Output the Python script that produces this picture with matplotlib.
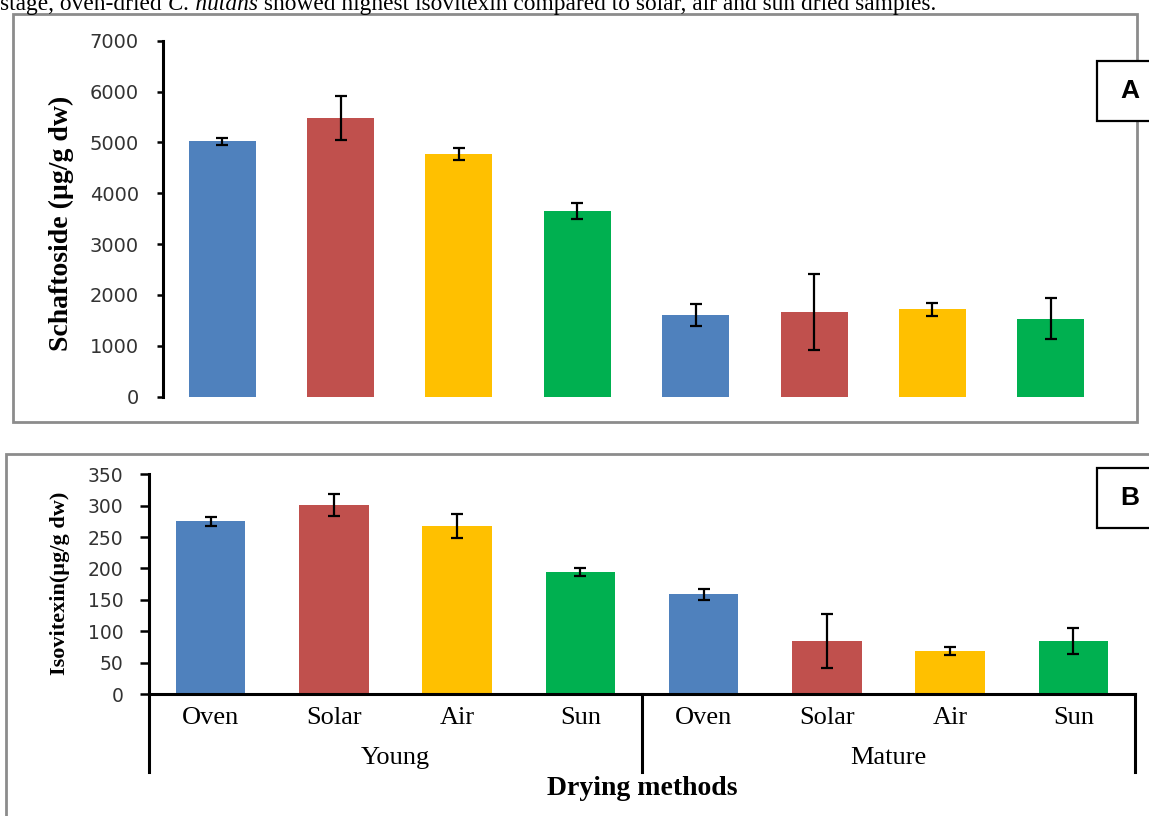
import matplotlib
matplotlib.use('Agg')
import matplotlib.pyplot as plt
import matplotlib.transforms as mtransforms
from matplotlib.patches import Rectangle
from matplotlib.text import Annotation

# Дані
stages = ['Young', 'Mature']
methods = ['Oven', 'Solar', 'Air', 'Sun']
schaftoside = [5020, 5480, 4770, 3650, 1600, 1670, 1715, 1535]
schaftoside_err = [65, 430, 115, 157, 215, 750, 135, 405]
isovitexin = [275, 301, 268, 195, 159, 85, 68, 85]
isovitexin_err = [7, 18, 19, 6.5, 8.5, 43, 6.5, 20.5]
colors = ['#4F81BD', '#C0504D', '#FFC000', '#00B050'] * 2

serif = 'Liberation Serif'
W, H = 1149, 816
fig = plt.figure(figsize=(W / 100, H / 100), dpi=100)

def fx(px):
    return px / W

def fy(py):
    return 1 - py / H

x = list(range(len(schaftoside)))
err_kw = dict(ecolor='black', elinewidth=1.6, capsize=4.5, capthick=1.6)

# Панель A
axA = fig.add_axes([fx(163), fy(396.7), fx(1110) - fx(163), fy(40.7) - fy(396.7)])
axA.set_facecolor('none')
axA.bar(x, schaftoside, width=0.565, color=colors, yerr=schaftoside_err,
        error_kw=err_kw)
axA.set_xlim(-0.5, 7.5)
axA.set_ylim(0, 7000)
axA.set_yticks(range(0, 7001, 1000))
for s in ['top', 'right', 'bottom']:
    axA.spines[s].set_visible(False)
axA.spines['left'].set_linewidth(2.2)
axA.set_xticks([])
axA.tick_params(axis='y', length=4.5, width=1.8, pad=13, labelsize=14,
                labelcolor='#333333')
axA.set_ylabel('Schaftoside (µg/g dw)', family=serif, fontweight='bold',
               fontsize=20, va='center')
axA.yaxis.set_label_coords((61 - 163) / 947, 0.488)

# Панель B
axB = fig.add_axes([fx(149), fy(694), fx(1135) - fx(149), fy(474.3) - fy(694)])
axB.set_facecolor('none')
axB.bar(x, isovitexin, width=0.565, color=colors, yerr=isovitexin_err,
        error_kw=err_kw)
axB.set_xlim(-0.5, 7.5)
axB.set_ylim(0, 350)
axB.set_yticks(range(0, 351, 50))
for s in ['top', 'right']:
    axB.spines[s].set_visible(False)
axB.spines['left'].set_linewidth(2.2)
axB.spines['bottom'].set_linewidth(2.2)
axB.set_xticks(x)
axB.set_xticklabels(methods * 2, family=serif, fontsize=19)
axB.tick_params(axis='x', length=0, pad=9)
axB.tick_params(axis='y', length=6.5, width=1.8, pad=12, labelsize=13.5,
                labelcolor='#333333')
axB.set_ylabel('Isovitexin(µg/g dw)', family=serif, fontweight='bold',
               fontsize=16, va='center')
axB.yaxis.set_label_coords((60 - 149) / 986, 0.505)

trans = mtransforms.blended_transform_factory(axB.transData, axB.transAxes)
for xv in [-0.5, 3.5, 7.5]:
    axB.plot([xv, xv], [0, -0.355], color='black', lw=2.2, transform=trans,
             clip_on=False)
axB.text(1.5, -0.291, stages[0], transform=trans, ha='center', va='center',
         family=serif, fontsize=19)
axB.text(5.5, -0.291, stages[1], transform=trans, ha='center', va='center',
         family=serif, fontsize=19)
axB.set_xlabel('Drying methods', family=serif, fontweight='bold', fontsize=20,
               va='center')
axB.xaxis.set_label_coords(0.5, -0.428)

# Рамки
frame_kw = dict(transform=fig.transFigure, fill=False, edgecolor='#8c8c8c',
                lw=2, zorder=1)
fig.add_artist(Rectangle((fx(13), fy(422)), fx(1137) - fx(13), fy(14) - fy(422),
                         **frame_kw))
fig.add_artist(Rectangle((fx(6), -0.1), 1.1, fy(454) + 0.1, **frame_kw))

# Мітки панелей
for label, top, bottom in [('A', 61, 121), ('B', 468, 528)]:
    fig.add_artist(Rectangle((fx(1097), fy(bottom)), 0.1, fy(top) - fy(bottom),
                             transform=fig.transFigure, facecolor='white',
                             edgecolor='black', lw=1.6, zorder=3))
    fig.text(fx(1130), fy((top + bottom) / 2), label, ha='center', va='center',
             family='Liberation Sans', fontweight='bold', fontsize=19, zorder=4)

# Текст зверху (обрізаний, як у джерелі)
t1 = fig.text(0.0, fy(10), 'stage, oven-dried ', family=serif, fontsize=16.8,
              va='baseline')
t2 = Annotation('C. nutans', xy=(1, 0), xycoords=t1, va='bottom', ha='left',
                family=serif, fontsize=16.8, style='italic')
fig.add_artist(t2)
t3 = Annotation(' showed highest isovitexin compared to solar, air and sun dried samples.',
                xy=(1, 0), xycoords=t2, va='bottom', ha='left', family=serif,
                fontsize=16.8)
fig.add_artist(t3)

fig.savefig('out.png', dpi=100)
